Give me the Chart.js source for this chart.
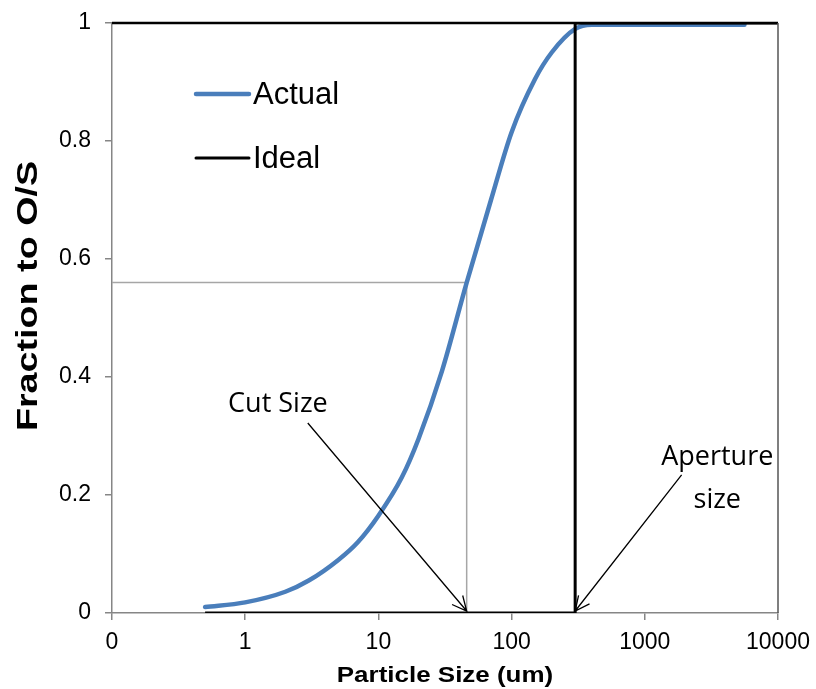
<!DOCTYPE html>
<html>
<head>
<meta charset="utf-8">
<script src="https://cdn.jsdelivr.net/npm/chart.js@4/dist/chart.umd.min.js"></script>
<style>
  html, body { margin: 0; padding: 0; background: #fff; }
  #wrap { width: 816px; height: 689px; }
</style>
</head>
<body>
<div id="wrap"><canvas id="grafica" width="816" height="689"></canvas></div>
<script>
const sizes = [0.5, 1, 2, 3, 5, 7, 10, 15, 20, 30, 46, 70, 100, 150, 200, 300, 400, 1000, 5600];
const actual = [0.01, 0.018, 0.036, 0.055, 0.09, 0.12, 0.165, 0.23, 0.295, 0.41, 0.56, 0.70, 0.815, 0.905, 0.95, 0.99, 0.997, 0.997, 0.997];

const idealX = [0.5, 300, 300, 10000];
const idealY = [0, 0, 1, 1];

const cutX = [0.1, 46, 46];
const cutY = [0.56, 0.56, 0];

const xTicks = [0.1, 1, 10, 100, 1000, 10000];
const xTickLabels = ['0', '1', '10', '100', '1000', '10000'];
const yTicks = [0, 0.2, 0.4, 0.6, 0.8, 1];

// annotation text and arrow, in data units
const notes = [
  { lines: ['Cut Size'], tx: 1.76, ty: 0.353, fx: 2.95, fy: 0.322, toX: 46, toY: 0 },
  { lines: ['Aperture', 'size'], tx: 3500, ty: 0.264, fx: 1890, fy: 0.234, toX: 300, toY: 0 }
];

const toPts = (xs, ys) => xs.map((x, i) => ({ x: x, y: ys[i] }));
const arial = '"Liberation Sans", Arial, sans-serif';

const actualSet = {
    label: 'Actual',
    data: toPts(sizes, actual),
    borderColor: '#4a7ebb',
    borderWidth: 4.5,
    borderCapStyle: 'round',
    pointRadius: 0,
    cubicInterpolationMode: 'monotone',
    fill: false,
    order: 2
};

const idealSet = {
    label: 'Ideal',
    data: toPts(idealX, idealY),
    borderColor: '#000000',
    borderWidth: 3,
    pointRadius: 0,
    tension: 0,
    fill: false,
    order: 1
};

const cutSet = {
    label: 'cut',
    data: toPts(cutX, cutY),
    borderColor: '#a6a6a6',
    borderWidth: 1.5,
    pointRadius: 0,
    tension: 0,
    fill: false,
    order: 3
};

const extras = {
    id: 'extras',
    afterDatasetsDraw(chart) {
        const ctx = chart.ctx;
        const xs = chart.scales.x, ys = chart.scales.y;
        const a = chart.chartArea;
        ctx.save();
        // frame top and right
        ctx.strokeStyle = '#000';
        ctx.lineWidth = 2.5;
        ctx.beginPath();
        ctx.moveTo(a.left, a.top);
        ctx.lineTo(a.right, a.top);
        ctx.stroke();
        ctx.strokeStyle = '#555';
        ctx.lineWidth = 1.5;
        ctx.beginPath();
        ctx.moveTo(a.right, a.top);
        ctx.lineTo(a.right, a.bottom);
        ctx.stroke();

        // notes + arrows
        ctx.fillStyle = '#000';
        ctx.strokeStyle = '#000';
        ctx.lineWidth = 1.3;
        ctx.font = '27px "Open Sans"';
        ctx.textAlign = 'center';
        ctx.textBaseline = 'middle';
        notes.forEach(n => {
            const tx = xs.getPixelForValue(n.tx), ty = ys.getPixelForValue(n.ty);
            n.lines.forEach((l, i) => ctx.fillText(l, tx, ty + i * 43));
            const x0 = xs.getPixelForValue(n.fx), y0 = ys.getPixelForValue(n.fy);
            const x1 = xs.getPixelForValue(n.toX), y1 = ys.getPixelForValue(n.toY) - 2;
            ctx.beginPath();
            ctx.moveTo(x0, y0);
            ctx.lineTo(x1, y1);
            const ang = Math.atan2(y1 - y0, x1 - x0);
            const h = 16, s = 0.45;
            ctx.moveTo(x1 - h * Math.cos(ang - s), y1 - h * Math.sin(ang - s));
            ctx.lineTo(x1, y1);
            ctx.lineTo(x1 - h * Math.cos(ang + s), y1 - h * Math.sin(ang + s));
            ctx.stroke();
        });

        // legend inside plot
        ctx.textAlign = 'left';
        ctx.font = '31px ' + arial;
        [actualSet, idealSet].forEach((d, i) => {
            const y = 94 + i * 64;
            ctx.strokeStyle = d.borderColor;
            ctx.lineWidth = d.borderWidth;
            ctx.lineCap = 'round';
            ctx.beginPath();
            ctx.moveTo(196, y);
            ctx.lineTo(249, y);
            ctx.stroke();
            ctx.fillStyle = '#000';
            ctx.fillText(d.label, 253, y + 1);
        });

        // axis titles, stretched like the original
        ctx.textAlign = 'center';
        ctx.save();
        ctx.translate((a.left + a.right) / 2, 676);
        ctx.scale(1.18, 1);
        ctx.font = 'bold 22px ' + arial;
        ctx.fillText('Particle Size (um)', 0, 0);
        ctx.restore();

        ctx.translate(28, 296);
        ctx.rotate(-Math.PI / 2);
        ctx.scale(1.3, 1);
        ctx.font = 'bold 29px ' + arial;
        ctx.fillText('Fraction to O/S', 0, 1);
        ctx.restore();
    }
};

const config = {
    type: 'line',
    data: { datasets: [actualSet, idealSet, cutSet] },
    options: {
        responsive: false,
        animation: false,
        layout: { padding: { top: 23, right: 38, left: 0, bottom: 0 } },
        plugins: { legend: { display: false }, tooltip: { enabled: false } },
        scales: {
            x: {
                type: 'logarithmic',
                min: 0.1,
                max: 10000,
                afterBuildTicks: s => { s.ticks = xTicks.map(v => ({ value: v })); },
                afterFit: s => { s.height = 76; s.paddingLeft = 0; s.paddingRight = 0; },
                ticks: {
                    autoSkip: false,
                    maxRotation: 0,
                    padding: 9,
                    color: '#000',
                    font: { family: arial, size: 23 },
                    callback: (v, i) => xTickLabels[i]
                },
                grid: { drawOnChartArea: false, tickLength: 7, color: '#868686', lineWidth: 1.5 },
                border: { color: '#868686', width: 1.5 },
                title: { display: false }
            },
            y: {
                min: 0,
                max: 1,
                afterBuildTicks: s => { s.ticks = yTicks.map(v => ({ value: v })); },
                afterFit: s => { s.width = 112; s.paddingTop = 0; s.paddingBottom = 0; },
                ticks: {
                    padding: 14,
                    color: '#000',
                    font: { family: arial, size: 23 },
                    callback: v => String(v)
                },
                grid: { drawOnChartArea: false, tickLength: 7, color: '#868686', lineWidth: 1.5 },
                border: { color: '#868686', width: 1.5 },
                title: { display: false }
            }
        }
    },
    plugins: [extras]
};

const $graph = document.getElementById('grafica');
if ($graph) {
    new Chart($graph, config);
} else {
    console.error('Canvas not found');
}
</script>
</body>
</html>
